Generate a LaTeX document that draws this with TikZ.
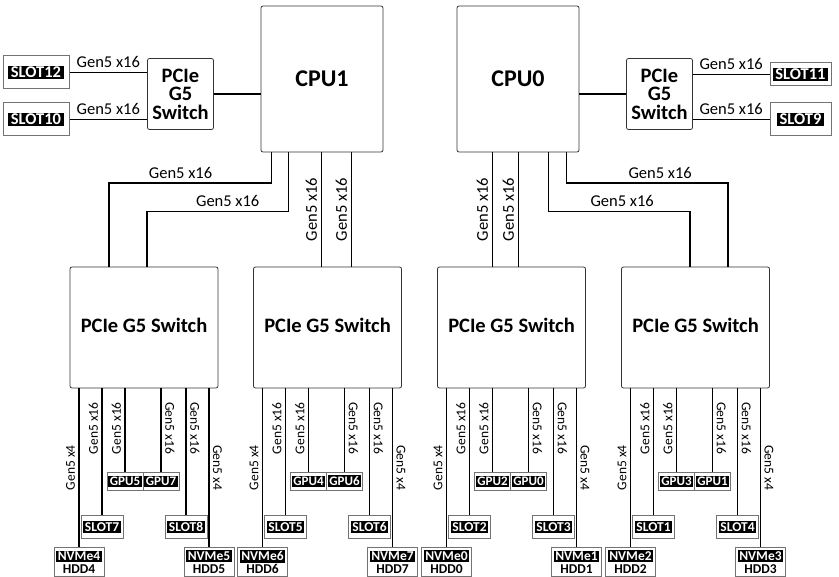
\documentclass[tikz,border=0pt]{standalone}
\usepackage{fontspec}
\setmainfont{Carlito}
\usetikzlibrary{positioning,calc}

\newcommand{\tagtext}[1]{{\setlength{\fboxsep}{1.5pt}\colorbox{black}{\textcolor{white}{#1}}}}
\newcommand{\widetag}[1]{\tagtext{\kern1pt#1\kern1pt}}

\begin{document}
\begin{tikzpicture}[x=1pt,y=-1pt,
    chipbox/.style={draw=black!80,fill=white,rounded corners=2pt,line width=0.8pt},
    cpubox/.style={chipbox,minimum width=122pt,minimum height=146pt,
        font=\fontsize{24}{28}\selectfont\bfseries},
    swbox/.style={chipbox,minimum width=148pt,minimum height=121pt,text depth=5pt,
        font=\fontsize{20.5}{24}\selectfont\bfseries},
    minisw/.style={chipbox,minimum width=66pt,minimum height=71pt,align=center,
        inner sep=1pt,font=\fontsize{20.5}{18.5}\selectfont\bfseries},
    tagbox/.style={draw=black!55,fill=white,line width=1pt,inner sep=1.5pt,
        align=center,font=\fontsize{13.5}{12.5}\selectfont\bfseries},
    bigtag/.style={tagbox,minimum width=66pt,font=\fontsize{16.5}{18}\selectfont\bfseries},
    nvmebox/.style={tagbox,minimum width=50pt,minimum height=29pt},
    slotbox/.style={tagbox,minimum width=42pt,minimum height=23pt},
    gpubox/.style={tagbox,minimum width=36pt,minimum height=18pt,inner sep=1pt,
        font=\fontsize{13}{12.5}\selectfont\bfseries},
    link/.style={draw=black,line width=1.3pt},
    buslabel/.style={font=\fontsize{16.5}{18}\selectfont,inner sep=4pt},
    upl/.style={buslabel,midway,rotate=90,anchor=south},
    lanel/.style={font=\fontsize{13.5}{15}\selectfont,inner sep=3.5pt,anchor=south},
    lanl/.style={lanel,rotate=90},
    lanr/.style={lanel,rotate=-90}
]
\useasboundingbox (0,0) rectangle (839,577);

% processors and top switches
\node[cpubox] (cpu1) at (322,79) {CPU1};
\node[cpubox] (cpu0) at (518,79) {CPU0};
\node[minisw] (lsw) at (180.5,94) {PCIe\\G5\\Switch};
\node[minisw] (rsw) at (659.5,94) {PCIe\\G5\\Switch};
\node[bigtag,minimum height=33pt] (slot12) at (36,72.5) {\widetag{SLOT12}};
\node[bigtag,minimum height=33pt] (slot10) at (36,119.5) {\widetag{SLOT10}};
\node[bigtag,minimum width=61pt,minimum height=23pt] (slot11) at (800.5,74.5) {\widetag{SLOT11}};
\node[bigtag,minimum width=61pt,minimum height=33pt] (slot9) at (800.5,119.5) {\widetag{SLOT9}};

\draw[link] (slot12.east)--node[buslabel,above] {Gen5 x16}(slot12.east -| lsw.west);
\draw[link] (slot10.east)--node[buslabel,above] {Gen5 x16}(slot10.east -| lsw.west);
\draw[link] (lsw.east)--(lsw.east -| cpu1.west);
\draw[link] (rsw.west)--(rsw.west -| cpu0.east);
\draw[link] (slot11.west -| rsw.east)--node[buslabel,above] {Gen5 x16}(slot11.west);
\draw[link] (slot9.west -| rsw.east)--node[buslabel,above] {Gen5 x16}(slot9.west);

% lower switches
\foreach \n/\x in {A/144,B/327.5,C/511.5,D/695.5}
    \node[swbox] (sw\n) at (\x,327.5) {PCIe G5 Switch};

\coordinate (busHi) at (0,183);
\coordinate (busLo) at (0,211.5);
\coordinate (c1a) at ([xshift=11pt]cpu1.south west);
\coordinate (c1b) at ([xshift=28pt]cpu1.south west);
\coordinate (c1c) at ([xshift=61pt]cpu1.south west);
\coordinate (c1d) at ([xshift=91pt]cpu1.south west);
\coordinate (c0a) at ([xshift=36pt]cpu0.south west);
\coordinate (c0b) at ([xshift=62pt]cpu0.south west);
\coordinate (c0c) at ([xshift=92pt]cpu0.south west);
\coordinate (c0d) at ([xshift=110pt]cpu0.south west);

\draw[link] (c1a)--(c1a |- busHi)-|node[buslabel,above,pos=0.28] {Gen5 x16}([xshift=-35pt]swA.north);
\draw[link] (c1b)--(c1b |- busLo)-|node[buslabel,above,pos=0.215] {Gen5 x16}([xshift=3pt]swA.north);
\draw[link] (c1c)--node[upl] {Gen5 x16}(c1c |- swB.north);
\draw[link] (c1d)--node[upl] {Gen5 x16}(c1d |- swB.north);
\draw[link] (c0a)--node[upl] {Gen5 x16}(c0a |- swC.north);
\draw[link] (c0b)--node[upl] {Gen5 x16}(c0b |- swC.north);
\draw[link] (c0c)--(c0c |- busLo)-|node[buslabel,above,pos=0.26] {Gen5 x16}([xshift=-5.5pt]swD.north);
\draw[link] (c0d)--(c0d |- busHi)-|node[buslabel,above,pos=0.29] {Gen5 x16}([xshift=32.5pt]swD.north);

% devices below each switch
\foreach \sw/\na/\sa/\ga/\gb/\sb/\nb in {swA/4/7/5/7/8/5,swB/6/5/4/6/6/7,
        swC/0/2/2/0/3/1,swD/2/1/3/1/4/3}{
    \path (\sw.south) ++(-65,173.5) node[nvmebox] (nvme\na) {\tagtext{NVMe\na}\\HDD\na};
    \path (\sw.south) ++(-42,138.5) node[slotbox] (slot\sa) {\tagtext{SLOT\sa}};
    \path (\sw.south) ++(-19,93) node[gpubox] (gpu\ga) {\tagtext{GPU\ga}};
    \path (\sw.south) ++(17,93) node[gpubox] (gpu\gb) {\tagtext{GPU\gb}};
    \path (\sw.south) ++(42,138.5) node[slotbox] (slot\sb) {\tagtext{SLOT\sb}};
    \path (\sw.south) ++(65,173.5) node[nvmebox] (nvme\nb) {\tagtext{NVMe\nb}\\HDD\nb};
    \draw[link] (nvme\na.north |- \sw.south)--node[lanl,pos=0.5] {Gen5 x4}(nvme\na.north);
    \draw[link] (slot\sa.north |- \sw.south)--node[lanl,pos=0.315] {Gen5 x16}(slot\sa.north);
    \draw[link] (gpu\ga.north |- \sw.south)--node[lanl,pos=0.476] {Gen5 x16}(gpu\ga.north);
    \draw[link] (gpu\gb.north |- \sw.south)--node[lanr,pos=0.476] {Gen5 x16}(gpu\gb.north);
    \draw[link] (slot\sb.north |- \sw.south)--node[lanr,pos=0.315] {Gen5 x16}(slot\sb.north);
    \draw[link] (nvme\nb.north |- \sw.south)--node[lanr,pos=0.5] {Gen5 x4}(nvme\nb.north);
}
\end{tikzpicture}
\end{document}
